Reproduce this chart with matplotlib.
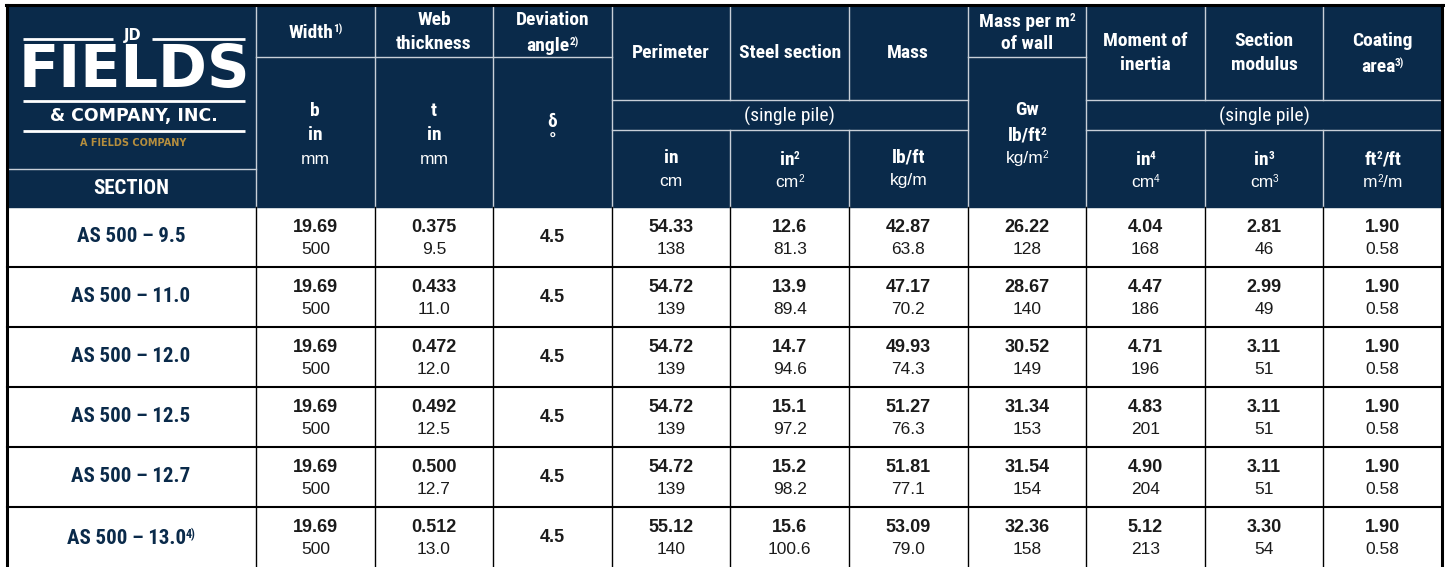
import matplotlib
matplotlib.use("Agg")
import matplotlib.pyplot as plt
from matplotlib.patches import Rectangle
from matplotlib import font_manager

# ===== Data =====
sections = ["AS 500 – 9.5", "AS 500 – 11.0", "AS 500 – 12.0",
            "AS 500 – 12.5", "AS 500 – 12.7", "AS 500 – 13.0"]
section_notes = ["", "", "", "", "", "4)"]

width_in = [19.69, 19.69, 19.69, 19.69, 19.69, 19.69]
width_mm = [500, 500, 500, 500, 500, 500]
web_in = [0.375, 0.433, 0.472, 0.492, 0.500, 0.512]
web_mm = [9.5, 11.0, 12.0, 12.5, 12.7, 13.0]
deviation = [4.5, 4.5, 4.5, 4.5, 4.5, 4.5]
perimeter_in = [54.33, 54.72, 54.72, 54.72, 54.72, 55.12]
perimeter_cm = [138, 139, 139, 139, 139, 140]
steel_in2 = [12.6, 13.9, 14.7, 15.1, 15.2, 15.6]
steel_cm2 = [81.3, 89.4, 94.6, 97.2, 98.2, 100.6]
mass_lbft = [42.87, 47.17, 49.93, 51.27, 51.81, 53.09]
mass_kgm = [63.8, 70.2, 74.3, 76.3, 77.1, 79.0]
gw_lbft2 = [26.22, 28.67, 30.52, 31.34, 31.54, 32.36]
gw_kgm2 = [128, 140, 149, 153, 154, 158]
inertia_in4 = [4.04, 4.47, 4.71, 4.83, 4.90, 5.12]
inertia_cm4 = [168, 186, 196, 201, 204, 213]
modulus_in3 = [2.81, 2.99, 3.11, 3.11, 3.11, 3.30]
modulus_cm3 = [46, 49, 51, 51, 51, 54]
coating_ft2ft = [1.90, 1.90, 1.90, 1.90, 1.90, 1.90]
coating_m2m = [0.58, 0.58, 0.58, 0.58, 0.58, 0.58]

# (imperial, metric, imperial fmt, metric fmt)
columns = [
    (width_in, width_mm, "{:.2f}", "{:.0f}"),
    (web_in, web_mm, "{:.3f}", "{:.1f}"),
    (deviation, None, "{:.1f}", None),
    (perimeter_in, perimeter_cm, "{:.2f}", "{:.0f}"),
    (steel_in2, steel_cm2, "{:.1f}", "{:.1f}"),
    (mass_lbft, mass_kgm, "{:.2f}", "{:.1f}"),
    (gw_lbft2, gw_kgm2, "{:.2f}", "{:.0f}"),
    (inertia_in4, inertia_cm4, "{:.2f}", "{:.0f}"),
    (modulus_in3, modulus_cm3, "{:.2f}", "{:.0f}"),
    (coating_ft2ft, coating_m2m, "{:.2f}", "{:.2f}"),
]

# header lines: (text, superscript) per line
titles = [
    [("Width", "1)")],
    [("Web", ""), ("thickness", "")],
    [("Deviation", ""), ("angle", "2)")],
    [("Perimeter", "")],
    [("Steel section", "")],
    [("Mass", "")],
    [("Mass per m", "2"), ("of wall", "")],
    [("Moment of", ""), ("inertia", "")],
    [("Section", ""), ("modulus", "")],
    [("Coating", ""), ("area", "3)")],
]
units_bold = [
    [("b", ""), ("in", "")],
    [("t", ""), ("in", "")],
    [("δ", ""), ("°", "")],
    [("in", "")],
    [("in", "2")],
    [("lb/ft", "")],
    [("Gw", ""), ("lb/ft", "2")],
    [("in", "4")],
    [("in", "3")],
    [("ft", "2")],
]
units_bold_tail = ["", "", "", "", "", "", "", "", "", "/ft"]
units_reg = [("mm", ""), ("mm", ""), None, ("cm", ""), ("cm", "2"), ("kg/m", ""),
             ("kg/m", "2"), ("cm", "4"), ("cm", "3"), ("m", "2")]
units_reg_tail = ["", "", "", "", "", "", "", "", "", "/m"]

# ===== Style =====
NAVY = "#0a2a4a"
GOLD = "#b58e3e"
HLINE = "#c8cfd8"
INK = "#1b1b1b"

names = {f.name for f in font_manager.fontManager.ttflist}
COND = "DejaVu Sans"
for cand in ["Liberation Sans Narrow", "Roboto Condensed", "Open Sans Condensed", "Roboto"]:
    if cand in names:
        COND = cand
        break
cond = [COND, "DejaVu Sans"]
sans = ["Liberation Sans", "DejaVu Sans"]
wide = ["DejaVu Sans"]

fig = plt.figure(figsize=(14.45, 5.67), dpi=100)
ax = fig.add_axes([0, 0, 1, 1])
ax.set_xlim(0, 1445)
ax.set_ylim(567, 0)
ax.axis("off")
renderer = fig.canvas.get_renderer()


def width_of(t):
    bb = t.get_window_extent(renderer)
    return bb.width  # 1 data unit == 1 pixel here


def sup_text(cx, cy, main, sup, tail="", size=14, **kw):
    """main text with a small raised superscript (and optional tail), centred at cx"""
    if not sup:
        ax.text(cx, cy, main, fontsize=size, ha="center", va="center", **kw)
        return
    px = size * 100 / 72
    base = cy + 0.36 * px
    t = ax.text(cx, base, main, fontsize=size, ha="left", va="baseline", **kw)
    s = ax.text(cx, base - 0.30 * px, sup, fontsize=size * 0.58, ha="left",
                va="baseline", **kw)
    w1, w2 = width_of(t) - 0.5, width_of(s)
    w3 = 0
    tt = None
    if tail:
        tt = ax.text(cx, base, tail, fontsize=size, ha="left", va="baseline", **kw)
        w3 = width_of(tt)
    x0 = cx - (w1 + w2 + w3) / 2
    t.set_x(x0)
    s.set_x(x0 + w1)
    if tt is not None:
        tt.set_x(x0 + w1 + w2)


ncol = len(columns)
left, right, top = 6.5, 1442, 5
logo_w = 256
col_w = (right - logo_w) / ncol
col_left = [logo_w + i * col_w for i in range(ncol)]
head_bot = 207
row_h = 60

# header background
ax.add_patch(Rectangle((left, top), right - left, head_bot - top, color=NAVY, zorder=0))

# ----- header lines -----
lw_h = 1.0
single = [0, 1, 2, 6]
for i in range(ncol + 1):
    x = logo_w + i * col_w
    if i in (4, 5, 8, 9):  # inside a grouped band: skip the (single pile) strip
        ax.plot([x, x], [top, 100], color=HLINE, lw=lw_h)
        ax.plot([x, x], [130, head_bot], color=HLINE, lw=lw_h)
    elif i < ncol:
        ax.plot([x, x], [top, head_bot], color=HLINE, lw=lw_h)
ax.plot([left, logo_w], [169, 169], color=HLINE, lw=lw_h)
for i in single:
    ax.plot([col_left[i], col_left[i] + col_w], [57, 57], color=HLINE, lw=lw_h)
for g in [(3, 6), (7, 10)]:
    x0, x1 = col_left[g[0]], col_left[g[1] - 1] + col_w
    ax.plot([x0, x1], [100, 100], color=HLINE, lw=lw_h)
    ax.plot([x0, x1], [130, 130], color=HLINE, lw=lw_h)
    ax.text((x0 + x1) / 2, 116, "(single pile)", color="white", fontsize=14,
            family=cond, ha="center", va="center")

# ----- header texts -----
for i in range(ncol):
    cx = col_left[i] + col_w / 2
    lines = titles[i]
    if i in single:
        ys = [31] if len(lines) == 1 else [20, 44]
    else:
        ys = [53] if len(lines) == 1 else [41, 65]
    for (txt, sp), y in zip(lines, ys):
        sup_text(cx, y, txt, sp, size=14, color="white", fontweight="bold", family=cond)

    ub = units_bold[i]
    if i == 2:
        uys = [122, 142]
    elif i in (0, 1):
        uys = [111, 135]
    elif i == 6:
        uys = [110, 134]
    else:
        uys = [158]
    for k, ((txt, sp), y) in enumerate(zip(ub, uys)):
        tail = units_bold_tail[i] if k == len(ub) - 1 else ""
        if tail and not sp:
            txt = txt + tail
            tail = ""
        sup_text(cx, y, txt, sp, tail, size=14, color="white", fontweight="bold", family=cond)
    if units_reg[i] is not None:
        ry = 159 if i in (0, 1) else (157 if i == 6 else 181)
        txt, sp = units_reg[i]
        sup_text(cx, ry, txt, sp, units_reg_tail[i], size=12.5, color="white", family=sans)

# ----- logo -----
lx0, lx1 = 23, 245
ax.plot([lx0, 113], [39, 39], color="white", lw=2.0, solid_capstyle="butt")
ax.plot([152, lx1], [39, 39], color="white", lw=2.0, solid_capstyle="butt")
ax.text(132.5, 35.5, "JD", color="white", fontsize=10.5, fontweight="bold", family=wide,
        ha="center", va="center")
ax.text(134, 70.5, "FIELDS", color="white", fontsize=42.5, fontweight="bold", family=wide,
        ha="center", va="center")
ax.plot([lx0, lx1], [101, 101], color="white", lw=2.0, solid_capstyle="butt")
ax.text(133.5, 116.5, "& COMPANY, INC.", color="white", fontsize=12.5, fontweight="bold",
        family=wide, ha="center", va="center")
ax.plot([lx0, lx1], [130.7, 130.7], color="white", lw=2.0, solid_capstyle="butt")
ax.text(133.5, 143, "A FIELDS COMPANY", color=GOLD, fontsize=7, fontweight="bold",
        family=wide, ha="center", va="center")
ax.text(131, 188, "SECTION", color="white", fontsize=15, fontweight="bold", family=cond,
        ha="center", va="center")

# ----- data rows -----
for r, name in enumerate(sections):
    y0 = head_bot + r * row_h
    sup_text(logo_w / 2 + 3, y0 + 30, name, section_notes[r], size=15, color=NAVY,
             fontweight="bold", family=cond)
    for i, (imp, met, fi, fm) in enumerate(columns):
        cx = col_left[i] + col_w / 2
        if met is None:
            ax.text(cx, y0 + 30, fi.format(imp[r]), color=INK, fontsize=13,
                    fontweight="bold", family=sans, ha="center", va="center")
        else:
            ax.text(cx, y0 + 20, fi.format(imp[r]), color=INK, fontsize=13,
                    fontweight="bold", family=sans, ha="center", va="center")
            ax.text(cx, y0 + 43, fm.format(met[r]), color=INK, fontsize=12.5,
                    family=sans, ha="center", va="center")

# data grid
bottom = head_bot + len(sections) * row_h
for r in range(1, len(sections)):
    y = head_bot + r * row_h
    ax.plot([left, right], [y, y], color="black", lw=1.5)
for i in range(ncol):
    ax.plot([col_left[i], col_left[i]], [head_bot, bottom], color="black", lw=1.0)

# outer border
ax.plot([left - 1, right + 1], [top, top], color="black", lw=2.2)
ax.plot([left, left], [top, bottom], color="black", lw=2.2)
ax.plot([right, right], [top, bottom], color="black", lw=2.2)

fig.savefig("out.png", dpi=100)
